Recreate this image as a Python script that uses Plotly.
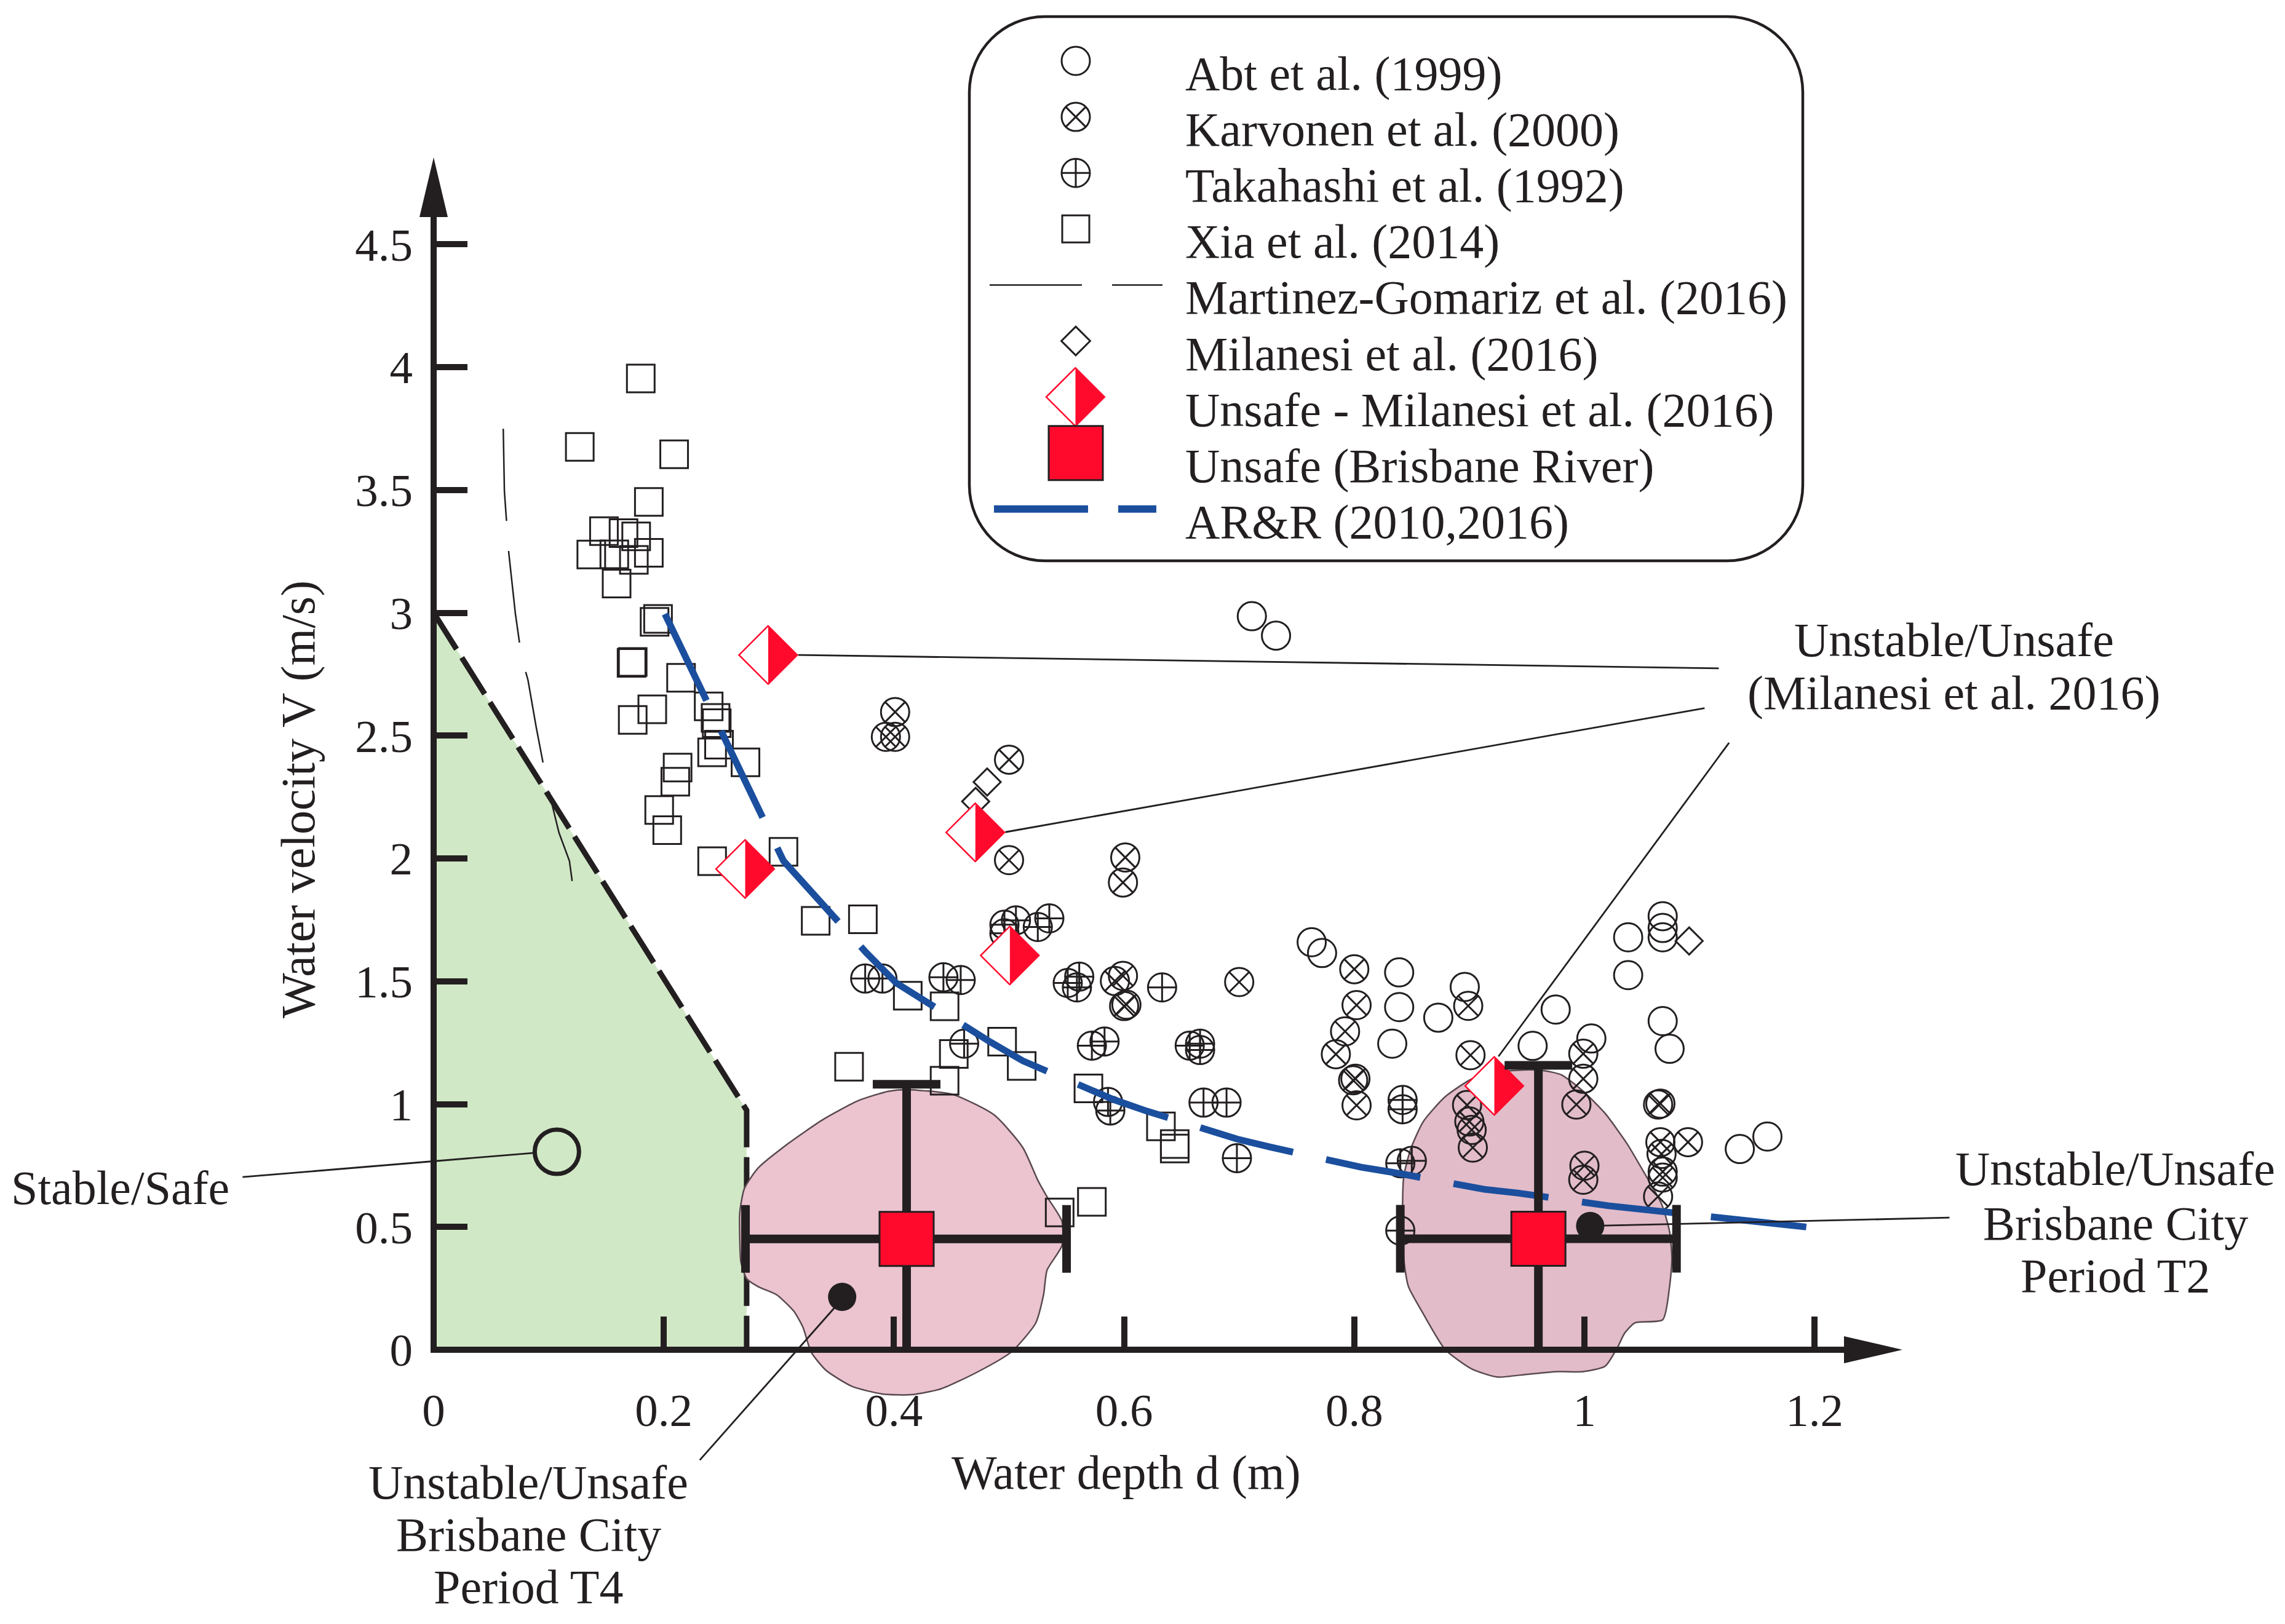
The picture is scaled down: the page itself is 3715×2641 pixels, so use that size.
import plotly.graph_objects as go

# ---------------- values ----------------
abt_d = [0.711, 0.732, 0.763, 0.772, 0.839, 0.839, 0.833, 0.896, 0.873, 0.975, 0.955, 1.006,
         1.038, 1.038, 1.068, 1.068, 1.068, 1.068, 1.074, 1.135, 1.159]
abt_v = [2.986, 2.907, 1.659, 1.615, 1.536, 1.395, 1.246, 1.477, 1.352, 1.385, 1.237, 1.267,
         1.679, 1.525, 1.765, 1.717, 1.679, 1.338, 1.225, 0.817, 0.868]

karv_d = [0.401, 0.393, 0.401, 0.500, 0.500, 0.601, 0.599, 0.700, 0.592, 0.599, 0.600, 0.602,
          0.800, 0.802, 0.792, 0.784, 0.799, 0.801, 0.802, 0.899, 0.901, 0.898, 0.900, 0.902,
          0.903, 0.999, 0.999, 0.993, 1.000, 0.999, 1.064, 1.066, 1.066, 1.067, 1.068, 1.068,
          1.064, 1.090]
karv_v = [2.596, 2.495, 2.495, 2.402, 1.993, 2.004, 1.902, 1.497, 1.501, 1.522, 1.399, 1.405,
          1.549, 1.403, 1.296, 1.203, 1.097, 1.103, 0.995, 1.400, 1.199, 0.996, 0.929, 0.895,
          0.823, 1.205, 1.103, 0.998, 0.749, 0.692, 0.998, 1.002, 0.845, 0.797, 0.725, 0.701,
          0.624, 0.845]

taka_d = [0.375, 0.390, 0.443, 0.458, 0.496, 0.506, 0.535, 0.525, 0.496, 0.551, 0.561, 0.559,
          0.633, 0.572, 0.583, 0.657, 0.666, 0.666, 0.461, 0.669, 0.689, 0.586, 0.588, 0.698,
          0.842, 0.842, 0.840, 0.850, 0.840]
taka_v = [1.511, 1.511, 1.516, 1.505, 1.730, 1.748, 1.756, 1.721, 1.695, 1.493, 1.519, 1.475,
          1.475, 1.238, 1.255, 1.238, 1.246, 1.220, 1.246, 1.006, 1.006, 1.009, 0.974, 0.780,
          1.017, 0.979, 0.759, 0.769, 0.485]

xia_d = [0.180, 0.127, 0.209, 0.187, 0.148, 0.165, 0.176, 0.137, 0.157, 0.174, 0.187, 0.159,
         0.195, 0.192, 0.172, 0.173, 0.215, 0.239, 0.245, 0.246, 0.190, 0.173, 0.242, 0.248,
         0.271, 0.212, 0.210, 0.196, 0.203, 0.242, 0.304, 0.332, 0.373, 0.412, 0.444, 0.494,
         0.452, 0.361, 0.444, 0.511, 0.569, 0.632, 0.644, 0.644, 0.572, 0.544]
xia_v = [3.954, 3.675, 3.645, 3.451, 3.332, 3.324, 3.311, 3.237, 3.238, 3.215, 3.244, 3.119,
         2.975, 2.963, 2.796, 2.800, 2.735, 2.619, 2.572, 2.551, 2.607, 2.564, 2.432, 2.463,
         2.391, 2.370, 2.312, 2.197, 2.115, 1.989, 2.027, 1.746, 1.752, 1.441, 1.398, 1.254,
         1.204, 1.152, 1.095, 1.155, 1.064, 0.909, 0.837, 0.819, 0.602, 0.559]

mart_d = [0.0605, 0.0615, 0.0653, 0.0710, 0.0763, 0.0820, 0.0891, 0.0963, 0.1030, 0.1089, 0.1180, 0.1211]
mart_v = [3.749, 3.494, 3.244, 2.998, 2.822, 2.726, 2.535, 2.359, 2.218, 2.105, 1.990, 1.883]

mil_d = [0.481, 0.471, 1.091]
mil_v = [2.311, 2.232, 1.664]

unsafe_mil_d = [0.291, 0.271, 0.471, 0.501, 0.922]
unsafe_mil_v = [2.828, 1.957, 2.106, 1.605, 1.074]

brisbane_d = [0.411, 0.960]
brisbane_v = [0.451, 0.452]
brisbane_d_minus = [0.140, 0.120]
brisbane_d_plus = [0.139, 0.120]
brisbane_v_minus = [0.451, 0.452]
brisbane_v_plus = [0.630, 0.706]
brisbane_dot_d = [0.355, 1.005]
brisbane_dot_v = [0.215, 0.504]

arr_d = [0.201, 0.239, 0.251, 0.290, 0.304, 0.376, 0.402, 0.484, 0.512, 0.591, 0.620, 0.698,
         0.727, 0.806, 0.835, 0.913, 0.942, 1.021, 1.050, 1.129, 1.156, 1.200]
arr_v = [2.995, 2.623, 2.494, 2.120, 1.990, 1.616, 1.493, 1.252, 1.176, 1.018, 0.971, 0.858,
         0.825, 0.743, 0.721, 0.653, 0.638, 0.586, 0.572, 0.532, 0.519, 0.496]

safe_d = [0.0, 0.0, 0.272, 0.272]
safe_v = [0.0, 3.0, 0.975, 0.0]

t4_blob_d = [0.410, 0.451, 0.487, 0.512, 0.525, 0.533, 0.546, 0.546, 0.533, 0.530, 0.523, 0.502,
             0.472, 0.441, 0.415, 0.390, 0.364, 0.341, 0.328, 0.321, 0.313, 0.298, 0.282, 0.272,
             0.267, 0.266, 0.266, 0.270, 0.282, 0.308, 0.339, 0.369, 0.395]
t4_blob_v = [1.059, 1.039, 0.956, 0.823, 0.690, 0.623, 0.523, 0.424, 0.324, 0.224, 0.107, -0.009,
             -0.092, -0.159, -0.183, -0.180, -0.150, -0.084, -0.009, 0.091, 0.157, 0.224, 0.257, 0.290,
             0.357, 0.457, 0.557, 0.656, 0.740, 0.839, 0.939, 1.014, 1.052]

t2_blob_d = [0.947, 0.924, 0.902, 0.879, 0.860, 0.849, 0.843, 0.842, 0.843, 0.847, 0.860, 0.879,
             0.902, 0.924, 0.950, 0.977, 0.999, 1.018, 1.029, 1.035, 1.044, 1.068, 1.074, 1.076,
             1.074, 1.067, 1.051, 1.037, 1.018, 0.999, 0.980, 0.965]
t2_blob_v = [1.139, 1.130, 1.102, 1.030, 0.929, 0.817, 0.705, 0.594, 0.370, 0.258, 0.146, 0.001,
             -0.078, -0.111, -0.100, -0.089, -0.089, -0.067, 0.012, 0.068, 0.110, 0.122, 0.258, 0.370,
             0.481, 0.594, 0.728, 0.839, 0.962, 1.052, 1.119, 1.136]

x_tick_vals = [0, 0.2, 0.4, 0.6, 0.8, 1.0, 1.2]
x_tick_text = ['0', '0.2', '0.4', '0.6', '0.8', '1', '1.2']
y_tick_vals = [0, 0.5, 1, 1.5, 2, 2.5, 3, 3.5, 4, 4.5]
y_tick_text = ['0', '0.5', '1', '1.5', '2', '2.5', '3', '3.5', '4', '4.5']

legend_labels = ['Abt et al. (1999)', 'Karvonen et al. (2000)', 'Takahashi et al. (1992)',
                 'Xia et al. (2014)', 'Martinez-Gomariz et al. (2016)', 'Milanesi et al. (2016)',
                 'Unsafe - Milanesi et al. (2016)', 'Unsafe (Brisbane River)', 'AR&R (2010,2016)']

# ---------------- styling / layout ----------------
PAGE_W, PAGE_H = 3715, 2641
BODY = 8                      # default page margin around the plot div
W, H = PAGE_W - 2 * BODY, PAGE_H - 2 * BODY
PX0, PXU = 705.0, 1871.0      # page pixel column of d = 0, pixels per metre
PY0, PYU = 2195.0, 399.5      # page pixel row of V = 0, pixels per m/s


def X(px):
    return (px - PX0) / PXU


def Y(py):
    return (PY0 - py) / PYU


def DX(px):
    return px / PXU


def DY(px):
    return px / PYU


XR = [X(BODY), X(BODY + W)]
YR = [Y(BODY + H), Y(BODY)]

INK = '#231f20'
RED = '#ff0a2c'
BLUE = '#1b4f9e'
GREEN = '#d1e8c6'
PINK4 = '#ebc4d0'
PINK2 = '#e2bcc9'
BLOBLINE = '#5a4a50'
SERIF = 'Liberation Serif'
FS = 78
TICKFS = 75
BAR = 14           # range-bar thickness
CAP = 55           # half length of the range-bar caps

fig = go.Figure()


def add(**kw):
    kw.setdefault('hoverinfo', 'skip')
    kw.setdefault('showlegend', False)
    fig.add_trace(go.Scatter(**kw))


# stable region
add(x=safe_d, y=safe_v, mode='lines', fill='toself', fillcolor=GREEN, line=dict(width=0, color=GREEN))
add(x=safe_d[1:], y=safe_v[1:], mode='lines', line=dict(color=INK, width=9, dash='70px,16px'))

# Brisbane envelopes
add(x=t4_blob_d + t4_blob_d[:1], y=t4_blob_v + t4_blob_v[:1], mode='lines', fill='toself',
    fillcolor=PINK4, line=dict(color=BLOBLINE, width=2.5, shape='spline', smoothing=0.6))
add(x=t2_blob_d + t2_blob_d[:1], y=t2_blob_v + t2_blob_v[:1], mode='lines', fill='toself',
    fillcolor=PINK2, line=dict(color=BLOBLINE, width=2.5, shape='spline', smoothing=0.6))

# Martinez-Gomariz curve
add(x=mart_d, y=mart_v, mode='lines', line=dict(color=INK, width=2.5, dash='150px,49px'))

# experimental data sets
MK = dict(color=INK, line=dict(width=3, color=INK))
add(x=xia_d, y=xia_v, mode='markers', marker=dict(symbol='square-open', size=45, **MK))
add(x=abt_d, y=abt_v, mode='markers', marker=dict(symbol='circle-open', size=46, **MK))
add(x=karv_d, y=karv_v, mode='markers', marker=dict(symbol='circle-x-open', size=46, **MK))
add(x=taka_d, y=taka_v, mode='markers', marker=dict(symbol='circle-cross-open', size=46, **MK))
add(x=mil_d, y=mil_v, mode='markers', marker=dict(symbol='diamond-open', size=34, **MK))

# AR&R
add(x=arr_d, y=arr_v, mode='lines', line=dict(color=BLUE, width=11, dash='156px,55px'))

# callout leader lines (data-space endpoints of the annotation pointers)
leaders = [((-0.166, 0.703), (0.0891, 0.802)),
           ((0.3167, 2.828), (1.1167, 2.774)),
           ((0.4967, 2.107), (1.1044, 2.612)),
           ((0.9253, 1.194), (1.1257, 2.471)),
           ((1.0046, 0.504), (1.3172, 0.5377)),
           ((0.3489, 0.174), (0.2313, -0.449))]
lx, ly = [], []
for (a, b) in leaders:
    lx += [a[0], b[0], None]
    ly += [a[1], b[1], None]
add(x=lx, y=ly, mode='lines', line=dict(color=INK, width=2.8))

# stable/safe marker
add(x=[0.1071], y=[0.806], mode='markers',
    marker=dict(symbol='circle-open', size=72, color=INK, line=dict(width=7, color=INK)))

# half-filled diamonds
HA, HB = DX(48), DY(48)


def half_diamonds(xs, ys, a, b):
    lxs, lys, rxs, rys = [], [], [], []
    for x, y in zip(xs, ys):
        lxs += [x, x - a, x, None]
        lys += [y + b, y, y - b, None]
        rxs += [x, x + a, x, x, None]
        rys += [y + b, y, y - b, y + b, None]
    add(x=lxs, y=lys, mode='lines', fill='toself', fillcolor='white', line=dict(color=RED, width=2.5))
    add(x=rxs, y=rys, mode='lines', fill='toself', fillcolor=RED, line=dict(color=RED, width=1))


half_diamonds(unsafe_mil_d, unsafe_mil_v, HA, HB)

# Brisbane river unsafe points with ranges (velocity range runs down to the axis, capped on top only)
v_top = [v + p for v, p in zip(brisbane_v, brisbane_v_plus)]
add(x=brisbane_d, y=v_top, mode='markers',
    marker=dict(symbol='line-ew', size=2 * CAP / 1.4, color=INK, line=dict(color=INK, width=BAR)))
add(x=brisbane_d, y=brisbane_v, mode='markers',
    marker=dict(symbol='square', size=88, color=RED, line=dict(color=INK, width=3)),
    error_x=dict(type='data', symmetric=False, array=brisbane_d_plus, arrayminus=brisbane_d_minus,
                 color=INK, thickness=BAR, width=CAP),
    error_y=dict(type='data', symmetric=False, array=brisbane_v_plus, arrayminus=brisbane_v_minus,
                 color=INK, thickness=BAR, width=0))
add(x=brisbane_dot_d, y=brisbane_dot_v, mode='markers', marker=dict(symbol='circle', size=46, color=INK))

# ---------------- custom legend ----------------
LEG_SYM_X = X(1749)
LEG_TXT_X = X(1925)
LEG_SYM_Y0 = 99.0
LEG_TXT_Y0 = 119.5
LEG_PITCH = 91.1
rows_sym = [Y(LEG_SYM_Y0 + i * LEG_PITCH) for i in range(len(legend_labels))]
rows_txt = [Y(LEG_TXT_Y0 + i * LEG_PITCH) for i in range(len(legend_labels))]

add(x=[LEG_SYM_X], y=[rows_sym[0]], mode='markers', marker=dict(symbol='circle-open', size=46, **MK))
add(x=[LEG_SYM_X], y=[rows_sym[1]], mode='markers', marker=dict(symbol='circle-x-open', size=46, **MK))
add(x=[LEG_SYM_X], y=[rows_sym[2]], mode='markers', marker=dict(symbol='circle-cross-open', size=46, **MK))
add(x=[LEG_SYM_X], y=[rows_sym[3]], mode='markers', marker=dict(symbol='square-open', size=44, **MK))
add(x=[X(1609), X(1890)], y=[rows_sym[4]] * 2, mode='lines', line=dict(color=INK, width=2.5, dash='150px,49px'))
add(x=[LEG_SYM_X], y=[rows_sym[5]], mode='markers', marker=dict(symbol='diamond-open', size=36, **MK))
half_diamonds([LEG_SYM_X], [rows_sym[6]], HA, HB)
add(x=[LEG_SYM_X], y=[rows_sym[7]], mode='markers',
    marker=dict(symbol='square', size=88, color=RED, line=dict(color=INK, width=3)))
add(x=[X(1616), X(1880)], y=[rows_sym[8]] * 2, mode='lines', line=dict(color=BLUE, width=12, dash='153px,49px'))

annotations = []
for lab, yy in zip(legend_labels, rows_txt):
    annotations.append(dict(x=LEG_TXT_X, y=yy, text=lab, xanchor='left', yanchor='middle',
                            showarrow=False, font=dict(family=SERIF, size=FS, color=INK)))

# legend frame (rounded rectangle)
Lb, Rb, Tb, Bb = X(1576), X(2931), Y(27), Y(912)
rx, ry, k = DX(123), DY(123), 0.5523
frame = (f"M {Lb+rx},{Tb} L {Rb-rx},{Tb} "
         f"C {Rb-rx+k*rx},{Tb} {Rb},{Tb-ry+k*ry} {Rb},{Tb-ry} "
         f"L {Rb},{Bb+ry} "
         f"C {Rb},{Bb+ry-k*ry} {Rb-rx+k*rx},{Bb} {Rb-rx},{Bb} "
         f"L {Lb+rx},{Bb} "
         f"C {Lb+rx-k*rx},{Bb} {Lb},{Bb+ry-k*ry} {Lb},{Bb+ry} "
         f"L {Lb},{Tb-ry} "
         f"C {Lb},{Tb-ry+k*ry} {Lb+rx-k*rx},{Tb} {Lb+rx},{Tb} Z")

# ---------------- text callouts ----------------
def txt(x, y, s, **kw):
    d = dict(x=x, y=y, text=s, showarrow=False, xanchor='center', yanchor='middle',
             font=dict(family=SERIF, size=FS, color=INK))
    d.update(kw)
    annotations.append(d)


txt(X(195), Y(1931), 'Stable/Safe')
txt(X(1831), Y(2394), 'Water depth d (m)')
txt(X(484), Y(1300), 'Water velocity V (m/s)', textangle=-90)
txt(X(3177), Y(1040), 'Unstable/Unsafe')
txt(X(3177), Y(1126), '(Milanesi et al. 2016)')
for s, py in zip(['Unstable/Unsafe', 'Brisbane City', 'Period T2'], [1900, 1989, 2074]):
    txt(X(3439), Y(py), s)
for s, py in zip(['Unstable/Unsafe', 'Brisbane City', 'Period T4'], [2410, 2495, 2580]):
    txt(X(859), Y(py), s)

# ---------------- axes (drawn lines + arrow heads) ----------------
LW = 10
shapes = [
    dict(type='path', path=frame, xref='x', yref='y', line=dict(color=INK, width=4.5), layer='above'),
    dict(type='line', xref='x', yref='y', x0=-DX(LW / 2), x1=X(2998), y0=0, y1=0,
         line=dict(color=INK, width=LW), layer='above'),
    dict(type='line', xref='x', yref='y', x0=0, x1=0, y0=-DY(LW / 2), y1=Y(350),
         line=dict(color=INK, width=LW), layer='above'),
    dict(type='path', xref='x', yref='y', layer='above', fillcolor=INK, line=dict(width=0),
         path=f"M {X(2998)},{DY(22)} L {X(3093)},0 L {X(2998)},{-DY(22)} Z"),
    dict(type='path', xref='x', yref='y', layer='above', fillcolor=INK, line=dict(width=0),
         path=f"M {-DX(23)},{Y(353)} L 0,{Y(256)} L {DX(23)},{Y(353)} Z"),
]

fig.update_layout(
    width=W, height=H, autosize=False,
    margin=dict(l=0, r=0, t=0, b=0, pad=0),
    paper_bgcolor='white', plot_bgcolor='white', showlegend=False,
    xaxis=dict(range=XR, domain=[0, 1], anchor='free', position=(0 - YR[0]) / (YR[1] - YR[0]),
               showgrid=False, zeroline=False, showline=False, ticks='inside', ticklen=54,
               tickwidth=10, tickcolor=INK, tickvals=x_tick_vals, ticktext=x_tick_text,
               tickfont=dict(family=SERIF, size=TICKFS, color=INK), ticklabelstandoff=48,
               fixedrange=True),
    yaxis=dict(range=YR, domain=[0, 1], anchor='free', position=(0 - XR[0]) / (XR[1] - XR[0]),
               showgrid=False, zeroline=False, showline=False, ticks='inside', ticklen=54,
               tickwidth=10, tickcolor=INK, tickvals=y_tick_vals, ticktext=y_tick_text,
               tickfont=dict(family=SERIF, size=TICKFS, color=INK), ticklabelstandoff=34,
               fixedrange=True),
    shapes=shapes,
    annotations=annotations,
)

fig.write_html('out.html')
